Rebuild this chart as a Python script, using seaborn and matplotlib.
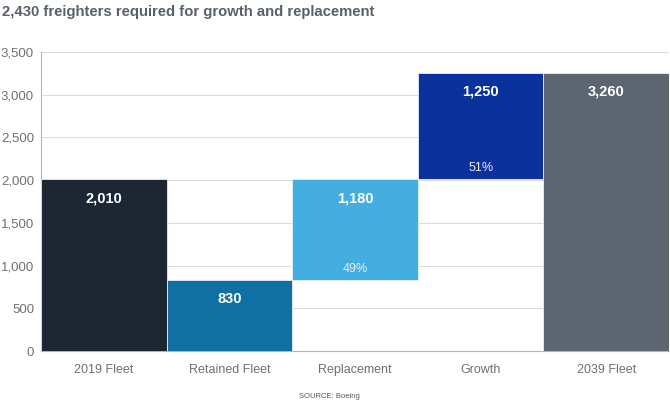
import matplotlib
matplotlib.use("Agg")
import matplotlib.pyplot as plt
import seaborn as sns
import pandas as pd

categories = ["2019 Fleet", "Retained Fleet", "Replacement", "Growth", "2039 Fleet"]
heights = [2010, 830, 1180, 1250, 3260]
bottoms = [0, 0, 830, 2010, 0]
value_labels = ["2,010", "830", "1,180", "1,250", "3,260"]
pct_labels = ["", "", "49%", "51%", ""]
colors = ["#1c2733", "#1170a3", "#45aee0", "#0b329c", "#5d6670"]
yticks = [0, 500, 1000, 1500, 2000, 2500, 3000, 3500]
ytick_labels = ["0", "500", "1,000", "1,500", "2,000", "2,500", "3,000", "3,500"]

sns.set_theme(style="white")
plt.rcParams["font.family"] = ["Liberation Sans", "DejaVu Sans"]

fig = plt.figure(figsize=(6.7, 4.18), dpi=100)
ax = fig.add_axes([0.0612, 0.160, 0.9373, 0.7156])

df = pd.DataFrame({"category": categories, "height": heights, "bottom": bottoms})
for i, row in df.iterrows():
    sns.barplot(x=[row["category"]], y=[row["height"]], bottom=row["bottom"],
                order=categories, color=colors[i], saturation=1, width=1.0,
                edgecolor="#e8eef3", linewidth=0.6, ax=ax, zorder=3)

ax.set_xlim(-0.5, 4.5)
ax.set_ylim(0, 3500)
ax.set_yticks(yticks)
ax.set_yticklabels(ytick_labels)
ax.yaxis.grid(True, color="#dcdcdc", linewidth=0.8, zorder=0)
ax.set_axisbelow(True)
ax.set_xlabel("")
ax.set_ylabel("")
ax.tick_params(axis="y", length=0, pad=5, labelsize=9.5, labelcolor="#707070")
ax.tick_params(axis="x", length=0, pad=9, labelsize=9, labelcolor="#707070")
for s in ["top", "right"]:
    ax.spines[s].set_visible(False)
ax.spines["left"].set_color("#b5b5b5")
ax.spines["bottom"].set_color("#b5b5b5")
ax.spines["left"].set_linewidth(0.8)
ax.spines["bottom"].set_linewidth(0.8)

for i in range(len(categories)):
    top = bottoms[i] + heights[i]
    ax.annotate(value_labels[i], (i, top), xytext=(0, -19), textcoords="offset pixels",
                ha="center", va="center", color="white", fontsize=10.5,
                fontweight="bold", zorder=5)
    if pct_labels[i]:
        ax.annotate(pct_labels[i], (i, bottoms[i]), xytext=(0, 11), textcoords="offset pixels",
                    ha="center", va="center", color="#e6eef8", fontsize=9, zorder=5)

fig.text(0.003, 0.972, "2,430 freighters required for growth and replacement",
         ha="left", va="center", fontsize=10.7, fontweight="bold", color="#58606a")
fig.text(0.491, 0.052, "SOURCE: Boeing", ha="center", va="center",
         fontsize=5.5, color="#555555")

fig.savefig("out.png", dpi=100)
